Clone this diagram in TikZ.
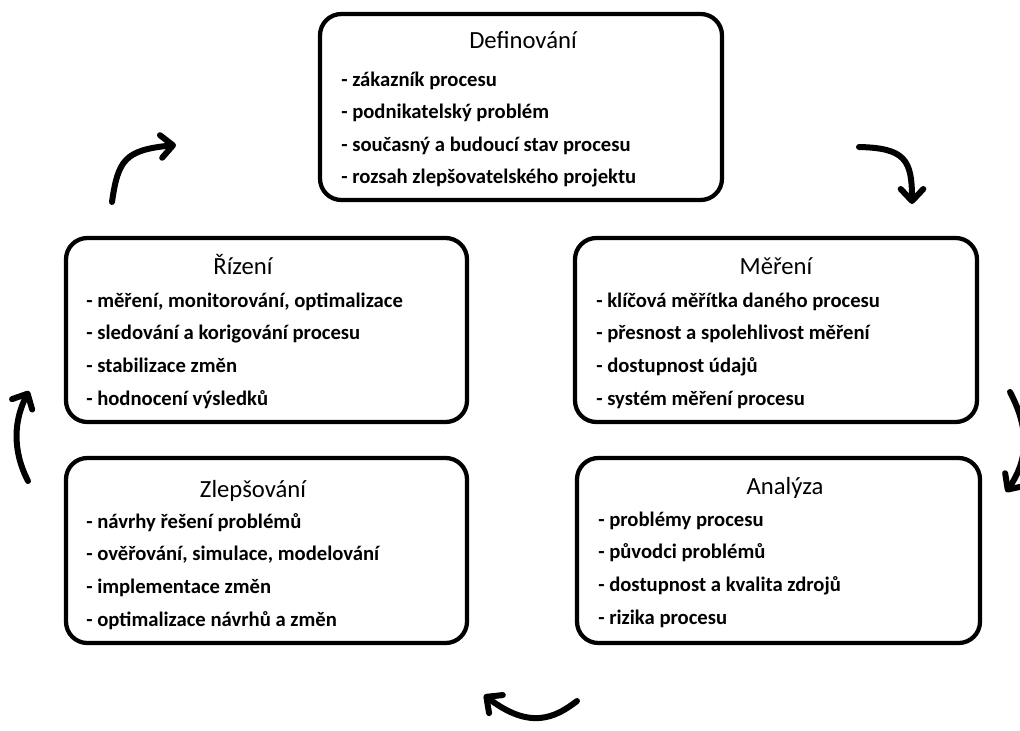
\documentclass[tikz,border=0pt]{standalone}
\usepackage{fontspec}
\setmainfont{Carlito}
\usetikzlibrary{arrows.meta}
\begin{document}
\begin{tikzpicture}[x=0.75pt,y=-0.75pt,
  phase/.style={draw=black,line width=3.2pt,rounded corners=16pt,inner sep=0pt},
  phasetitle/.style={font=\fontsize{18.5}{22}\selectfont,inner sep=0pt,anchor=base},
  % item lists are placed by the baseline of their last line
  phaseitems/.style={font=\fontsize{15.5}{24.5}\selectfont\bfseries,inner sep=0pt,anchor=base west,align=left},
  cyclearrow/.style={line width=4.5pt,line cap=round,line join=round,
    -{Straight Barb[length=9pt,width=17pt,line width=4.5pt,round]}}]
\useasboundingbox (0,0) rectangle (1020,731);

% phase boxes
\draw[phase] (320,14) rectangle (722,200);
\draw[phase] (66,238) rectangle (467,422);
\draw[phase] (575,238) rectangle (977,422);
\draw[phase] (66,458) rectangle (467,643);
\draw[phase] (577,458) rectangle (980,643);

% titles
\node[phasetitle] (tdef) at (523,49) {Definování};
\node[phasetitle] (triz) at (243,274) {Řízení};
\node[phasetitle] (tmer) at (776,274) {Měření};
\node[phasetitle] (tzle) at (253,497) {Zlepšování};
\node[phasetitle] (tana) at (785,494) {Analýza};

% item lists
\node[phaseitems] (idef) at (341,184) {- zákazník procesu\\- podnikatelský problém\\- současný a budoucí stav procesu\\- rozsah zlepšovatelského projektu};
\node[phaseitems] (iriz) at (86,405) {- měření, monitorování, optimalizace\\- sledování a korigování procesu\\- stabilizace změn\\- hodnocení výsledků};
\node[phaseitems] (imer) at (596,405) {- klíčová měřítka daného procesu\\- přesnost a spolehlivost měření\\- dostupnost údajů\\- systém měření procesu};
\node[phaseitems] (izle) at (86,626) {- návrhy řešení problémů\\- ověřování, simulace, modelování\\- implementace změn\\- optimalizace návrhů a změn};
\node[phaseitems] (iana) at (598,624) {- problémy procesu\\- původci problémů\\- dostupnost a kvalita zdrojů\\- rizika procesu};

% hand-drawn cycle arrows
\coordinate (a1s) at (112,202);
\coordinate (a1e) at (176,145);
\draw[cyclearrow] (a1s) .. controls (118,160) and (125,150) .. (a1e);

\coordinate (a2s) at (859,147);
\coordinate (a2e) at (912,204);
\draw[cyclearrow] (a2s) .. controls (905,148) and (912,160) .. (a2e);

\begin{scope}
\clip (0,0) rectangle (1020,731);
\coordinate (a3s) at (1010,392);
\coordinate (a3e) at (1006,492);
\draw[cyclearrow] (a3s) .. controls (1030,430) and (1028,460) .. (a3e);
\end{scope}

\coordinate (a4s) at (577,701);
\coordinate (a4e) at (484,695);
\draw[cyclearrow] (a4s) .. controls (555,718) and (530,730) .. (a4e);

\coordinate (a5s) at (28,481);
\coordinate (a5e) at (29,391);
\draw[cyclearrow] (a5s) .. controls (12,450) and (14,420) .. (a5e);
\end{tikzpicture}
\end{document}
